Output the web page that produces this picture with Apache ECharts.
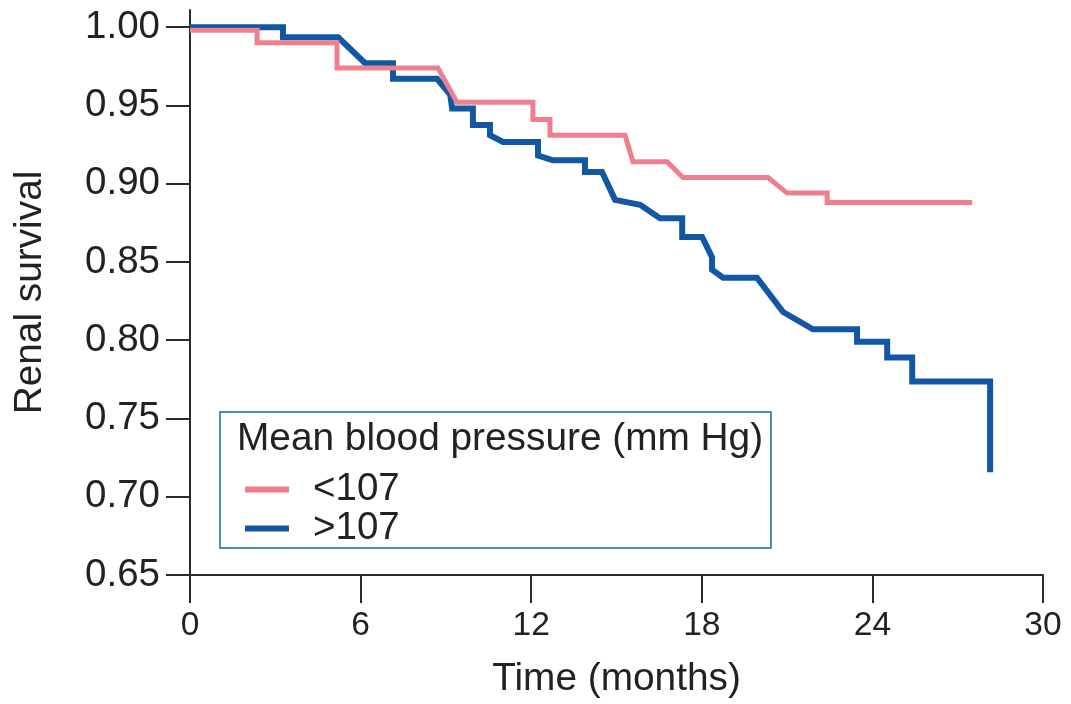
<!DOCTYPE html>
<html>
<head>
<meta charset="utf-8">
<script src="https://cdn.jsdelivr.net/npm/echarts@6/dist/echarts.min.js"></script>
<style>
html,body{margin:0;padding:0;background:#fff;}
#chart{width:1071px;height:704px;}
</style>
</head>
<body>
<div id="chart"></div>
<script>
// Kaplan-Meier style survival curves (time in months, renal survival)
const seriesNames = ['<107', '>107'];
const legendTitle = 'Mean blood pressure (mm Hg)';
const xTicks = [0, 6, 12, 18, 24, 30];
const yTicks = [0.65, 0.70, 0.75, 0.80, 0.85, 0.90, 0.95, 1.00];

const lowBP = [
  [0, 0.998], [2.36, 0.998], [2.36, 0.990], [5.17, 0.990], [5.17, 0.974],
  [8.72, 0.974], [9.39, 0.952], [12.06, 0.952], [12.06, 0.941], [12.66, 0.941],
  [12.66, 0.931], [15.30, 0.931], [15.58, 0.914], [16.78, 0.914], [17.34, 0.904],
  [20.33, 0.904], [21.0, 0.894], [22.41, 0.894], [22.41, 0.888], [27.51, 0.888]
];

const highBP = [
  [0, 1.000], [3.27, 1.000], [3.27, 0.9936], [5.21, 0.9936], [6.16, 0.977],
  [7.14, 0.977], [7.14, 0.967], [8.69, 0.967], [9.15, 0.957], [9.22, 0.948],
  [9.95, 0.948], [9.95, 0.9375], [10.55, 0.9375], [10.55, 0.931], [11.01, 0.9267],
  [12.24, 0.9267], [12.24, 0.918], [12.77, 0.915], [13.89, 0.915], [13.89, 0.9075],
  [14.49, 0.9075], [14.95, 0.8897], [15.83, 0.8865], [16.53, 0.878], [17.31, 0.878],
  [17.31, 0.866], [18.01, 0.866], [18.36, 0.853], [18.36, 0.845], [18.75, 0.840],
  [19.94, 0.840], [20.86, 0.818], [21.91, 0.807], [23.46, 0.807], [23.46, 0.799],
  [24.52, 0.799], [24.52, 0.789], [25.40, 0.789], [25.40, 0.7736], [28.14, 0.7736],
  [28.14, 0.7156]
];

const FONT = '"Liberation Sans", Arial, Helvetica, sans-serif';
const PINK = '#ef7f8c';
const BLUE = '#1157a3';
const AXIS = '#2b2b2b';

const chart = echarts.init(document.getElementById('chart'));
chart.setOption({
  animation: false,
  backgroundColor: '#ffffff',
  grid: { left: 190, right: 28, top: 10, bottom: 127 },
  xAxis: {
    type: 'value', min: 0, max: 30, interval: 6,
    name: 'Time (months)', nameLocation: 'middle', nameGap: 85,
    nameTextStyle: { fontFamily: FONT, fontSize: 38.8, color: '#222' },
    axisLine: { show: true, lineStyle: { color: AXIS, width: 2 } },
    axisTick: { show: true, length: 28, lineStyle: { color: AXIS, width: 2 } },
    axisLabel: { margin: 34, fontFamily: FONT, fontSize: 33.5, color: '#222' },
    splitLine: { show: false }
  },
  yAxis: {
    type: 'value', min: 0.65, max: 1.011,
    name: 'Renal survival', nameLocation: 'middle', nameGap: 140,
    nameTextStyle: { fontFamily: FONT, fontSize: 38.8, color: '#222' },
    axisLine: { show: true, lineStyle: { color: AXIS, width: 2 } },
    axisTick: { show: true, length: 24, inside: false, customValues: yTicks, lineStyle: { color: AXIS, width: 2 } },
    axisLabel: { margin: 30, fontFamily: FONT, fontSize: 38.5, color: '#222', customValues: yTicks,
      formatter: v => v.toFixed(2) },
    splitLine: { show: false }
  },
  legend: {
    data: seriesNames,
    orient: 'vertical',
    left: 240, top: 465,
    itemWidth: 44, itemHeight: 6, itemGap: 0,
    icon: 'rect',
    textStyle: { fontFamily: FONT, fontSize: 38.5, color: '#222', padding: [0, 0, 0, 19], lineHeight: 36 }
  },
  graphic: [
    { type: 'rect', shape: { x: 220, y: 412, width: 551, height: 136 },
      style: { fill: 'rgba(0,0,0,0)', stroke: '#4f8eab', lineWidth: 2 }, z: 10 },
    { type: 'text', left: 237, top: 420,
      style: { text: legendTitle, font: '38.8px ' + FONT, fill: '#222' }, z: 10 }
  ],
  series: [
    { name: '>107', type: 'line', data: highBP, showSymbol: false, symbol: 'none',
      lineStyle: { color: BLUE, width: 6, join: 'miter' }, itemStyle: { color: BLUE }, z: 2 },
    { name: '<107', type: 'line', data: lowBP, showSymbol: false, symbol: 'none',
      lineStyle: { color: PINK, width: 5, join: 'miter' }, itemStyle: { color: PINK }, z: 3 }
  ]
});
</script>
</body>
</html>
